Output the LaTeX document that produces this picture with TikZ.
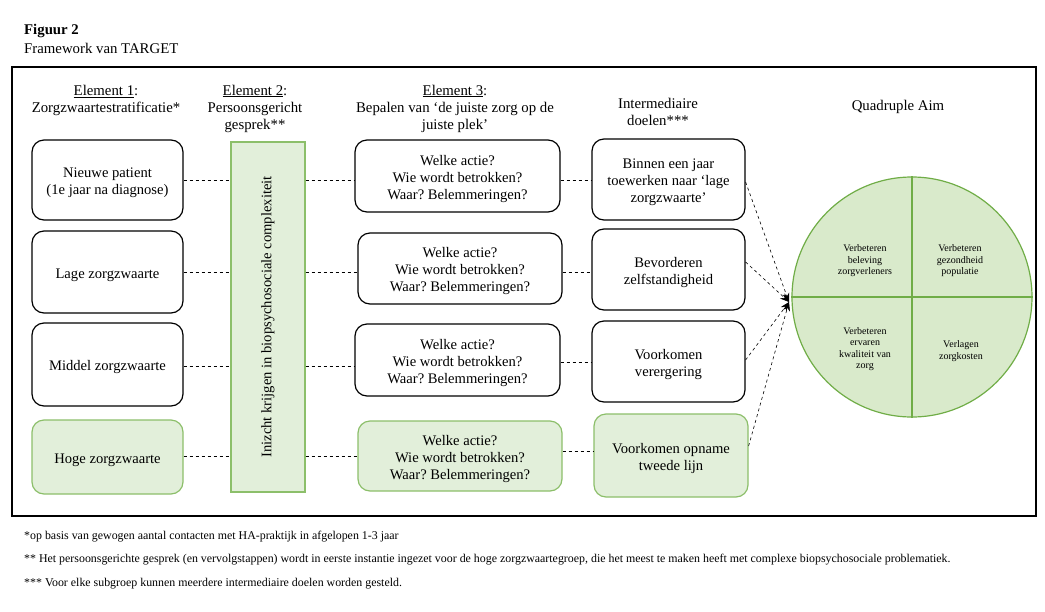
\documentclass[tikz,border=0pt]{standalone}
\usepackage{fontspec}
\setmainfont{Liberation Serif}
\usetikzlibrary{arrows.meta}
\frenchspacing
\newcommand\tsx{\rule{0pt}{16pt}}
\definecolor{gfill}{HTML}{E2EFDA}
\definecolor{gline}{HTML}{8CBF6A}
\definecolor{cfill}{HTML}{D9EACB}
\definecolor{cline}{HTML}{70AD47}
\tikzset{
  box/.style={draw=black, line width=1.2pt, rounded corners=12pt, align=center, inner sep=0pt,
    font=\fontsize{14.6}{17}\selectfont},
  gbox/.style={box, draw=gline, fill=gfill},
  hdr/.style={align=center, font=\fontsize{14.8}{17}\selectfont},
  conn/.style={dashed, line width=0.8pt},
  arr/.style={dashed, line width=0.6pt, -{Stealth[length=9pt,width=7pt]}},
  qtxt/.style={align=center, font=\fontsize{10}{11.5}\selectfont},
  fn/.style={anchor=west, inner sep=0pt, font=\fontsize{11.9}{13}\selectfont},
}
\begin{document}
\begin{tikzpicture}[x=1pt,y=-1pt]
\useasboundingbox (0,0) rectangle (1045,611);
% titles
\node[anchor=west, inner sep=0pt, font=\fontsize{14.8}{16}\selectfont\bfseries] (t1) at (24,31) {Figuur 2};
\node[anchor=west, inner sep=0pt, font=\fontsize{14.8}{16}\selectfont] (t2) at (24,48) {Framework van TARGET};
% frame
\draw[line width=1.2pt] (12,67) rectangle (1036,516);
% headers
\node[hdr] (h1) at (106,100.5) {\underline{Element 1}:\\Zorgzwaartestratificatie*};
\node[hdr] (h2) at (255,108.5) {\underline{Element 2}:\\Persoonsgericht\\gesprek**};
\node[hdr] (h3) at (455,108.5) {\underline{Element 3}:\\Bepalen van `de juiste zorg op de\\juiste plek'};
\node[hdr] (h4) at (658,111.5) {Intermediaire\\doelen***};
\node[hdr] (h5) at (898,107) {Quadruple Aim};
% column 1
\node[box, minimum width=151pt, minimum height=80pt] (a1) at (107.5,180) {\tsx Nieuwe patient\\(1e jaar na diagnose)};
\node[box, minimum width=151pt, minimum height=82pt] (a2) at (107.5,272) {\tsx Lage zorgzwaarte};
\node[box, minimum width=151pt, minimum height=83pt] (a3) at (107.5,364.5) {\tsx Middel zorgzwaarte};
\node[gbox, minimum width=151pt, minimum height=74pt] (a4) at (107.5,457) {\tsx Hoge zorgzwaarte};
% element 2
\node[draw=gline, fill=gfill, line width=1.2pt, minimum width=74pt, minimum height=350pt, inner sep=0pt] (b) at (268,317) {};
\node[rotate=90, font=\fontsize{14.6}{17}\selectfont] (bt) at (b.center) {Inizcht krijgen in biopsychosociale complexiteit};
% column 3
\node[box, minimum width=205pt, minimum height=72pt] (c1) at (457.5,176) {\tsx Welke actie?\\Wie wordt betrokken?\\Waar? Belemmeringen?};
\node[box, minimum width=204pt, minimum height=71pt] (c2) at (460,268.5) {\tsx Welke actie?\\Wie wordt betrokken?\\Waar? Belemmeringen?};
\node[box, minimum width=205pt, minimum height=72pt] (c3) at (457.5,360) {\tsx Welke actie?\\Wie wordt betrokken?\\Waar? Belemmeringen?};
\node[gbox, minimum width=204pt, minimum height=70pt] (c4) at (460,456) {\tsx Welke actie?\\Wie wordt betrokken?\\Waar? Belemmeringen?};
% column 4
\node[box, minimum width=153pt, minimum height=81pt] (d1) at (668.5,179.5) {\tsx Binnen een jaar\\toewerken naar `lage\\zorgzwaarte'};
\node[box, minimum width=153pt, minimum height=81pt] (d2) at (668.5,269.5) {\tsx Bevorderen\\zelfstandigheid};
\node[box, minimum width=153pt, minimum height=81pt] (d3) at (668.5,361.5) {\tsx Voorkomen\\verergering};
\node[gbox, minimum width=154pt, minimum height=83pt] (d4) at (671,455.5) {\tsx Voorkomen opname\\tweede lijn};
% circle
\node[circle, draw=cline, fill=cfill, line width=1.2pt, minimum size=240pt, inner sep=0pt] (q) at (912,297) {};
\draw[cline, line width=1.2pt] (q.north) -- (q.south);
\draw[cline, line width=1.2pt] (q.west) -- (q.east);
\node[qtxt] (q1) at (865,261) {Verbeteren\\beleving\\zorgverleners};
\node[qtxt] (q2) at (960,261) {Verbeteren\\gezondheid\\populatie};
\node[qtxt] (q3) at (865,349) {Verbeteren\\ervaren\\kwaliteit van\\zorg};
\node[qtxt] (q4) at (961,351) {Verlagen\\zorgkosten};
% dashed connectors
\draw[conn] (a1.east |- 0,180) -- (b.west |- 0,180);
\draw[conn] (a2.east |- 0,272) -- (b.west |- 0,272);
\draw[conn] (a3.east |- 0,366) -- (b.west |- 0,366);
\draw[conn] (a4.east |- 0,456) -- (b.west |- 0,456);
\draw[conn] (b.east |- 0,180) -- (c1.west |- 0,180);
\draw[conn] (b.east |- 0,272) -- (c2.west |- 0,272);
\draw[conn] (b.east |- 0,366) -- (c3.west |- 0,366);
\draw[conn] (b.east |- 0,456) -- (c4.west |- 0,456);
\draw[conn] (c1.east |- 0,180) -- (d1.west |- 0,180);
\draw[conn] (c2.east |- 0,272) -- (d2.west |- 0,272);
\draw[conn] (c3.east |- 0,362) -- (d3.west |- 0,362);
\draw[conn] (c4.east |- 0,451) -- (d4.west |- 0,451);
% arrows to circle
\coordinate (tgt) at (789,302);
\draw[arr] (d1.east |- 0,182) -- (tgt);
\draw[arr] (d2.east |- 0,262) -- (tgt);
\draw[arr] (d3.east |- 0,360) -- (tgt);
\draw[arr] (d4.east |- 0,446) -- (tgt);
% footnotes
\node[fn] (f1) at (24,537) {*op basis van gewogen aantal contacten met HA-praktijk in afgelopen 1-3 jaar};
\node[fn] (f2) at (24,560) {** Het persoonsgerichte gesprek (en vervolgstappen) wordt in eerste instantie ingezet voor de hoge zorgzwaartegroep, die het meest te maken heeft met complexe biopsychosociale problematiek.};
\node[fn] (f3) at (24,584) {*** Voor elke subgroep kunnen meerdere intermediaire doelen worden gesteld.};
\end{tikzpicture}
\end{document}
